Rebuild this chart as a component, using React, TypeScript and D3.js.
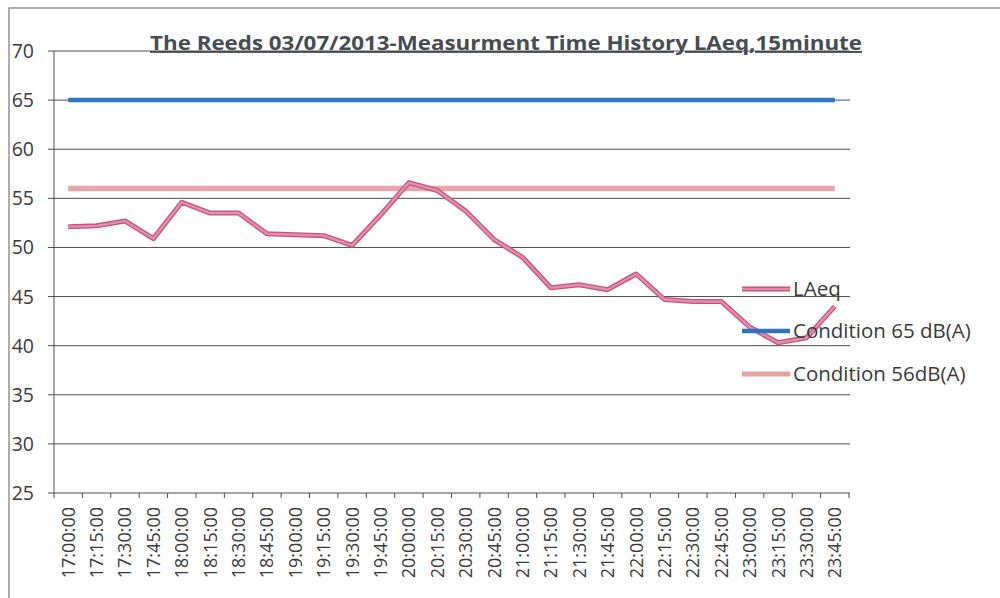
import React from "react";
import * as d3 from "d3";

const times = [
  "17:00:00","17:15:00","17:30:00","17:45:00","18:00:00","18:15:00","18:30:00","18:45:00",
  "19:00:00","19:15:00","19:30:00","19:45:00","20:00:00","20:15:00","20:30:00","20:45:00",
  "21:00:00","21:15:00","21:30:00","21:45:00","22:00:00","22:15:00","22:30:00","22:45:00",
  "23:00:00","23:15:00","23:30:00","23:45:00",
];
const laeq = [
  52.1, 52.2, 52.7, 50.9, 54.6, 53.5, 53.5, 51.4,
  51.3, 51.2, 50.2, 53.3, 56.6, 55.8, 53.7, 50.8,
  49.0, 45.9, 46.2, 45.7, 47.3, 44.7, 44.5, 44.5,
  41.9, 40.3, 40.8, 44.0,
];
const condition65 = 65;
const condition56 = 56;
const yTicks = [25, 30, 35, 40, 45, 50, 55, 60, 65, 70];
const title = "The Reeds 03/07/2013-Measurment Time History LAeq,15minute";
const legendItems = ["LAeq", "Condition 65 dB(A)", "Condition 56dB(A)"];

const FONT = "'Open Sans', 'Noto Sans', sans-serif";
const TEXT = "#3a3a3a";

export default function App() {
  const x = d3.scaleBand<string>().domain(times).range([54, 849]).padding(0);
  const y = d3.scaleLinear().domain([25, 70]).range([493, 51]);
  const cx = (t: string) => (x(t) as number) + x.bandwidth() / 2;

  const line = d3
    .line<number>()
    .x((_, i) => cx(times[i]))
    .y((d) => y(d));

  const first = cx(times[0]);
  const last = cx(times[times.length - 1]);

  const legendColors = [
    { outer: "#c4557f", inner: "#e389ab", w: 5 },
    { outer: "#2f73c4", inner: "#3a80d0", w: 4.5 },
    { outer: "#e5a3a6", inner: "#eab0b2", w: 5 },
  ];
  const legendY = [289, 331, 374];

  return (
    <svg
      width={1000}
      height={598}
      style={{ position: "fixed", left: 0, top: 0, background: "#fff" }}
    >
      <rect x={0} y={0} width={1000} height={598} fill="#ffffff" />
      <rect x={9} y={8} width={1010} height={620} fill="none" stroke="#777" strokeWidth={1.2} />

      <text
        x={506}
        y={50}
        textAnchor="middle"
        fontFamily={FONT}
        fontWeight="bold"
        fontSize={19}
        fill="#464c52"
        textDecoration="underline"
        textLength={712}
        lengthAdjust="spacingAndGlyphs"
      >
        {title}
      </text>

      {yTicks.map((t) => (
        <line
          key={"g" + t}
          x1={48}
          x2={850}
          y1={y(t)}
          y2={y(t)}
          stroke="#4d4d4d"
          strokeWidth={1}
        />
      ))}
      <line x1={54} x2={54} y1={y(70)} y2={y(25)} stroke="#4d4d4d" strokeWidth={1} />
      {yTicks.map((t) => (
        <text
          key={"yl" + t}
          x={34}
          y={y(t) + 7}
          textAnchor="end"
          fontFamily={FONT}
          fontSize={19.5}
          fill={TEXT}
        >
          {t}
        </text>
      ))}
      {times.map((t) => (
        <line
          key={"xt" + t}
          x1={x(t) as number}
          x2={x(t) as number}
          y1={y(25)}
          y2={y(25) + 5}
          stroke="#4d4d4d"
          strokeWidth={1}
        />
      ))}
      <line x1={849} x2={849} y1={y(25)} y2={y(25) + 5} stroke="#4d4d4d" strokeWidth={1} />
      {times.map((t) => (
        <text
          key={"xl" + t}
          transform={`translate(${cx(t) + 6.5},${y(25) + 14}) rotate(-90)`}
          textAnchor="end"
          fontFamily={FONT}
          fontSize={18}
          fill={TEXT}
        >
          {t}
        </text>
      ))}

      <line x1={first} x2={last} y1={y(condition65)} y2={y(condition65)} stroke="#2f75c6" strokeWidth={4.5} />
      <line x1={first} x2={last} y1={y(condition56)} y2={y(condition56)} stroke="#e8a6a8" strokeWidth={5.5} />

      <path d={line(laeq) || ""} fill="none" stroke="#c4557f" strokeWidth={5} strokeLinejoin="round" />
      <path d={line(laeq) || ""} fill="none" stroke="#e58daf" strokeWidth={2.4} strokeLinejoin="round" />

      {legendItems.map((name, i) => (
        <g key={name}>
          <line x1={742} x2={790} y1={legendY[i]} y2={legendY[i]} stroke={legendColors[i].outer} strokeWidth={legendColors[i].w} />
          {i === 0 && (
            <line x1={742} x2={790} y1={legendY[i]} y2={legendY[i]} stroke={legendColors[i].inner} strokeWidth={2} />
          )}
          <text
            x={793}
            y={legendY[i] + 7}
            fontFamily={FONT}
            fontSize={20.5}
            fill={TEXT}
          >
            {name}
          </text>
        </g>
      ))}
    </svg>
  );
}
